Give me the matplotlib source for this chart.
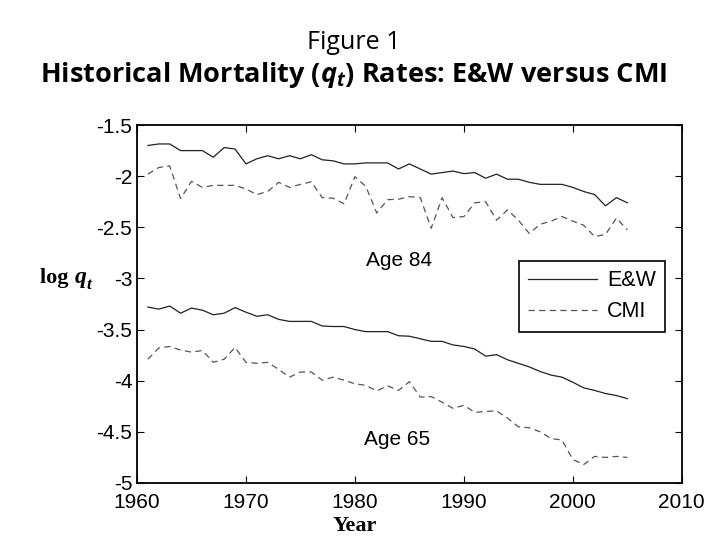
import numpy as np
import matplotlib
matplotlib.use('Agg')
import matplotlib.pyplot as plt

plt.rcParams['font.family'] = 'Liberation Sans'
plt.rcParams['axes.unicode_minus'] = False
plt.rcParams['mathtext.fontset'] = 'custom'
plt.rcParams['mathtext.it'] = 'Open Sans:italic:bold'
plt.rcParams['mathtext.rm'] = 'Open Sans:bold'

# Dados (log q_t)
anos = np.arange(1961, 2006)

ew_84 = [-1.70, -1.685, -1.685, -1.75, -1.75, -1.75, -1.815, -1.72, -1.735, -1.88,
         -1.83, -1.80, -1.83, -1.80, -1.83, -1.79, -1.84, -1.85, -1.88, -1.88,
         -1.87, -1.87, -1.87, -1.93, -1.88, -1.93, -1.98, -1.965, -1.95, -1.975,
         -1.965, -2.02, -1.98, -2.03, -2.03, -2.06, -2.08, -2.08, -2.08, -2.11,
         -2.15, -2.18, -2.29, -2.21, -2.26]

cmi_84 = [-1.98, -1.915, -1.90, -2.22, -2.05, -2.11, -2.09, -2.09, -2.09, -2.125,
          -2.18, -2.15, -2.06, -2.11, -2.08, -2.055, -2.21, -2.215, -2.27, -2.005,
          -2.10, -2.36, -2.23, -2.225, -2.20, -2.21, -2.51, -2.21, -2.405, -2.395,
          -2.26, -2.25, -2.43, -2.33, -2.43, -2.56, -2.47, -2.44, -2.395, -2.44,
          -2.48, -2.59, -2.57, -2.41, -2.525]

ew_65 = [-3.28, -3.30, -3.27, -3.34, -3.29, -3.31, -3.355, -3.34, -3.285, -3.33,
         -3.37, -3.355, -3.40, -3.42, -3.42, -3.42, -3.465, -3.47, -3.47, -3.50,
         -3.52, -3.52, -3.52, -3.56, -3.565, -3.59, -3.615, -3.615, -3.65, -3.665,
         -3.69, -3.76, -3.745, -3.795, -3.83, -3.865, -3.91, -3.945, -3.965, -4.015,
         -4.07, -4.095, -4.125, -4.145, -4.175]

cmi_65 = [-3.79, -3.68, -3.665, -3.70, -3.72, -3.705, -3.82, -3.79, -3.675, -3.82,
          -3.83, -3.82, -3.89, -3.965, -3.915, -3.915, -3.995, -3.965, -3.995, -4.03,
          -4.045, -4.10, -4.05, -4.095, -4.01, -4.16, -4.155, -4.21, -4.27, -4.24,
          -4.31, -4.30, -4.295, -4.365, -4.45, -4.46, -4.50, -4.565, -4.58, -4.77,
          -4.82, -4.74, -4.75, -4.74, -4.75]

xticks = [1960, 1970, 1980, 1990, 2000, 2010]
yticks = [-5, -4.5, -4, -3.5, -3, -2.5, -2, -1.5]
ytick_labels = ['-5', '-4.5', '-4', '-3.5', '-3', '-2.5', '-2', '-1.5']

fig = plt.figure(figsize=(7.08, 5.46), dpi=100)
ax = fig.add_axes([0.1935, 0.1154, 0.7695, 0.6556])

ax.plot(anos, ew_84, '-', color='#222222', lw=0.9, label='E&W')
ax.plot(anos, cmi_84, '--', color='#555555', lw=0.9, dashes=(5, 3.5), label='CMI')
ax.plot(anos, ew_65, '-', color='#222222', lw=0.9)
ax.plot(anos, cmi_65, '--', color='#555555', lw=0.9, dashes=(5, 3.5))

ax.set_xlim(1960, 2010)
ax.set_ylim(-5, -1.5)
ax.set_xticks(xticks)
ax.set_xticklabels([str(a) for a in xticks])
ax.set_yticks(yticks)
ax.set_yticklabels(ytick_labels)
ax.tick_params(direction='in', top=True, right=True, length=5, width=0.8,
               labelsize=15)
ax.tick_params(axis='x', pad=7.5)
ax.tick_params(axis='y', pad=3.5)
for s in ax.spines.values():
    s.set_linewidth(1.3)

ax.text(1984.05, -2.82, 'Age 84', fontsize=15, ha='center', va='center')
ax.text(1983.9, -4.57, 'Age 65', fontsize=15, ha='center', va='center')

leg = ax.legend(loc='upper right', bbox_to_anchor=(0.970, 0.621), fontsize=15.5,
                fancybox=False, framealpha=1, edgecolor='black', handlelength=3.2,
                handletextpad=0.45, borderaxespad=0, borderpad=0.45, labelspacing=0.45)
leg.get_frame().set_linewidth(1.2)

# Rótulos dos eixos
fig.text(0.501, 0.036, 'Year', family='Liberation Serif', fontweight='bold',
         fontsize=16, ha='center', va='center')
t1 = fig.text(0.057, 0.482, 'log ', family='Liberation Serif', fontweight='bold',
              fontsize=16, ha='left', va='baseline')
t2 = ax.annotate('q', xy=(1, 0), xycoords=t1, xytext=(0, 0), textcoords='offset points',
                 family='Liberation Serif', fontweight='bold', style='italic',
                 fontsize=17, ha='left', va='bottom')
ax.annotate('t', xy=(1, 0), xycoords=t2, xytext=(0, -4), textcoords='offset points',
            family='Liberation Serif', fontweight='bold', style='italic',
            fontsize=12.5, ha='left', va='bottom', annotation_clip=False)

# Títulos
fig.text(0.5, 0.923, 'Figure 1', family='Open Sans', fontsize=18,
         ha='center', va='center')
fig.text(0.5, 0.862, r'Historical Mortality ($q_t$) Rates: E&W versus CMI',
         family='Open Sans', fontweight='bold', fontsize=19.5, ha='center', va='center')

fig.savefig('out.png', dpi=100)
